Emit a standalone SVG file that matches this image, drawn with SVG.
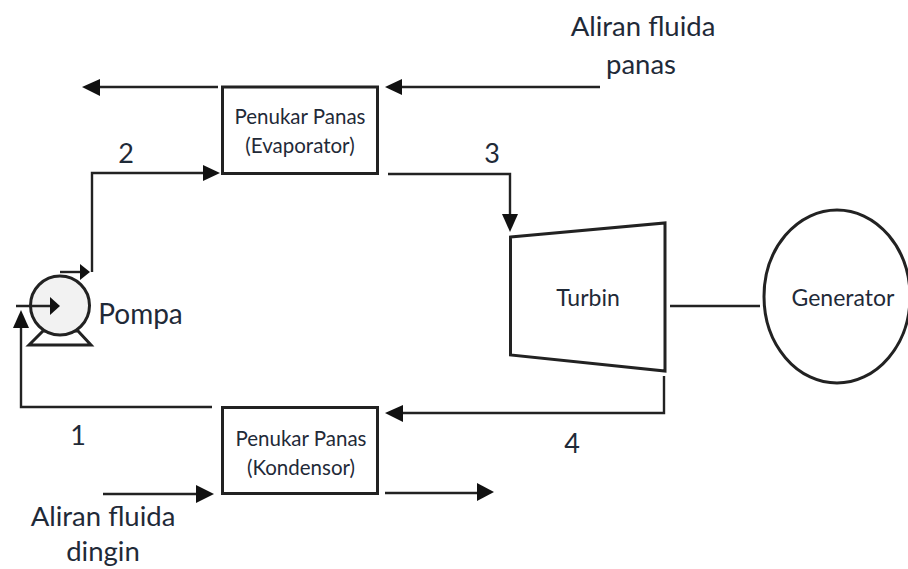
<svg xmlns="http://www.w3.org/2000/svg" width="908" height="569" viewBox="0 0 908 569">
<style>
text{font-family:Lato,"Open Sans","Liberation Sans",sans-serif;fill:#1f2a38;text-anchor:middle}
.s{font-size:20.500px}
.t{font-size:23px}
.l{font-size:27.500px}
.m{font-size:27px}
.b{fill:#fff;stroke:#222;stroke-width:3}
.c{fill:none;stroke:#222;stroke-width:2.400}
.a{fill:#111}
</style>
<rect width="908" height="569" fill="#fff"/>
<g id="connectors">
<path class="c" d="M600 87H400"/><path class="a" d="M385 87L402 79V95Z"/>
<path class="c" d="M218 87H98"/><path class="a" d="M82 87L100 79V96Z"/>
<path class="c" d="M92 272V173H205"/><path class="a" d="M220 173L203 165V181Z"/>
<path class="c" d="M388 174H510V216"/><path class="a" d="M510 232L502 214H518Z"/>
<path class="c" d="M664 376V413H400"/><path class="a" d="M385 413L403 405V422Z"/>
<path class="c" d="M212 407H21V326"/><path class="a" d="M21 310L13 328H29Z"/>
<path class="c" d="M103 494H198"/><path class="a" d="M214 494L196 485V503Z"/>
<path class="c" d="M385 493H478"/><path class="a" d="M494 492L477 483V501Z"/>
<path class="c" d="M670 306H760" stroke-width="3"/>
</g>
<g id="evaporator">
<rect class="b" x="222.500" y="87" width="155" height="86.500"/>
<text class="s" x="300" y="124">Penukar Panas</text>
<text class="s" x="300" y="153">(Evaporator)</text>
</g>
<g id="kondensor">
<rect class="b" x="222.500" y="407.500" width="155" height="86"/>
<text class="s" x="301" y="446">Penukar Panas</text>
<text class="s" x="301" y="475">(Kondensor)</text>
</g>
<g id="turbin">
<path class="b" d="M510.500 237L665 223V371L510.500 355Z"/>
<text class="t" x="588" y="306">Turbin</text>
</g>
<g id="generator">
<ellipse class="b" cx="837" cy="296.500" rx="73" ry="86.500"/>
<text class="t" x="843" y="306">Generator</text>
</g>
<g id="pompa">
<path class="b" d="M29 345L43 331H78L91 345Z"/>
<circle cx="60" cy="302" r="29.500" fill="#f2f2f2" stroke="#222" stroke-width="3" transform="translate(0 3.500)"/>
<path class="c" d="M60 272H80"/><path class="a" d="M90 272L80 264V280Z"/>
<path class="c" d="M16 306H50"/><path class="a" d="M60 306L50 297V315Z"/>
<text x="140.500" y="324" style="font-size:28px">Pompa</text>
</g>
<g id="labels">
<text class="m" x="126" y="163">2</text>
<text class="m" x="492" y="163">3</text>
<text class="m" x="572" y="453">4</text>
<text class="m" x="78" y="445">1</text>
<text class="l" x="643" y="36">Aliran fluida</text>
<text class="l" x="641" y="74">panas</text>
<text class="l" x="103" y="526">Aliran fluida</text>
<text class="l" x="103" y="561">dingin</text>
</g>
</svg>
